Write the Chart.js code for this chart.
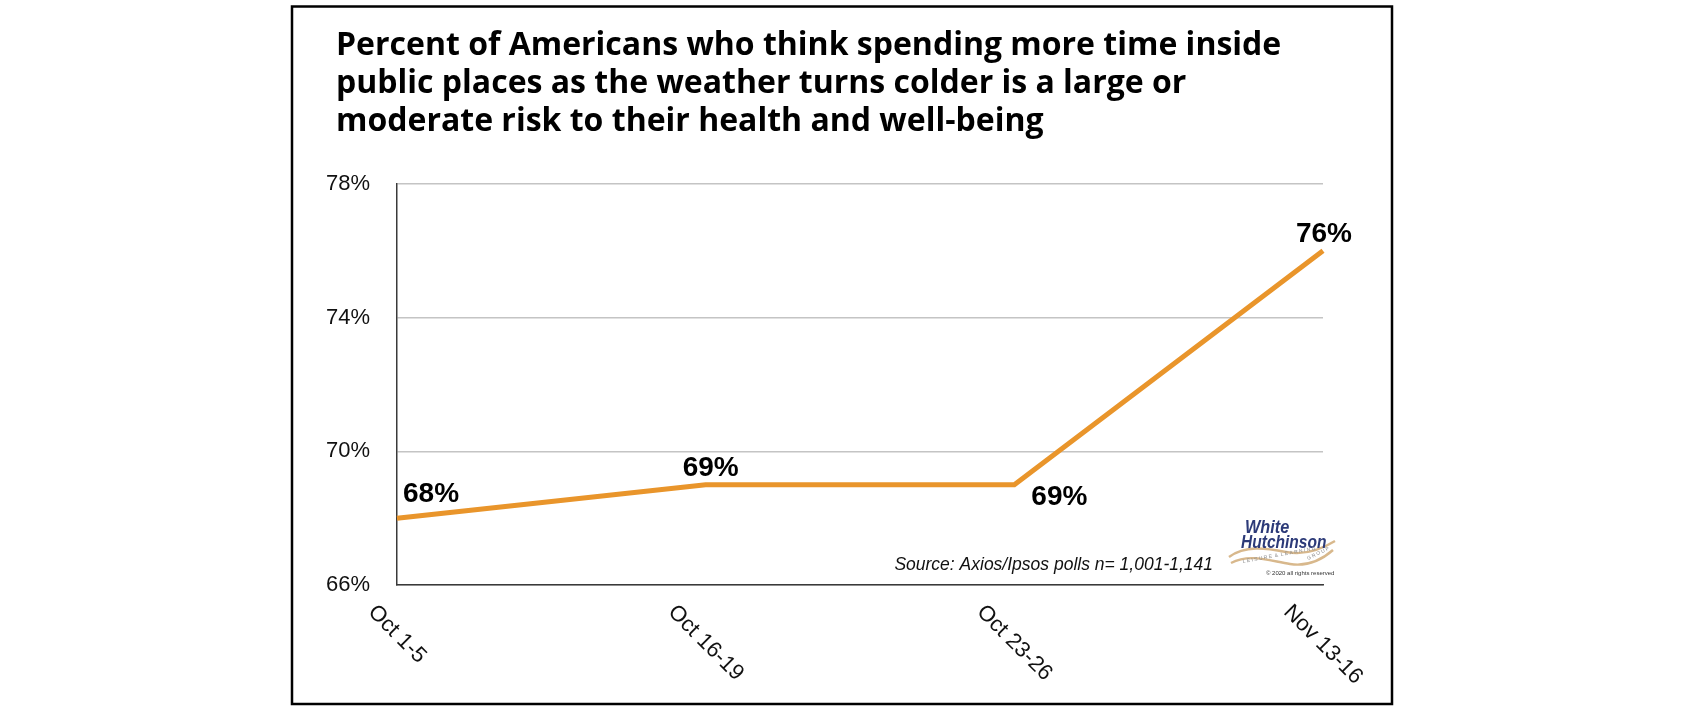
<!DOCTYPE html>
<html><head><meta charset="utf-8">
<script src="https://cdn.jsdelivr.net/npm/chart.js@4.4.0/dist/chart.umd.min.js"></script>
<style>html,body{margin:0;padding:0;background:#fff;overflow:hidden}#wrap{position:relative;width:1692px;height:715px}</style>
</head><body><div id="wrap"><canvas id="c" width="1692" height="715"></canvas></div>
<script>
// ---- data ----
const categories = ['Oct 1-5', 'Oct 16-19', 'Oct 23-26', 'Nov 13-16'];
const shareAtRisk = [68, 69, 69, 76];
const yTickValues = [66, 70, 74, 78];
const titleLines = [
  'Percent of Americans who think spending more time inside',
  'public places as the weather turns colder is a large or',
  'moderate risk to their health and well-being'
];
const sourceNote = 'Source: Axios/Ipsos polls n= 1,001-1,141';

// ---- label placement (style only) ----
const valueLabelPlacement = [
  { align: 'left',   dx: 6,  dy: -24 },
  { align: 'center', dx: 5,  dy: -16 },
  { align: 'center', dx: 45, dy: 13 },
  { align: 'center', dx: 1,  dy: -17 }
];

const decorPlugin = {
  id: 'decor',
  beforeDraw(chart) {
    const ctx = chart.ctx;
    ctx.save();
    ctx.fillStyle = '#ffffff';
    ctx.fillRect(0, 0, chart.width, chart.height);
    ctx.strokeStyle = '#000000';
    ctx.lineWidth = 2.5;
    ctx.strokeRect(292, 6.5, 1100, 697.5);
    // title
    ctx.fillStyle = '#000000';
    ctx.font = '700 32px "Open Sans"';
    ctx.textAlign = 'left';
    ctx.textBaseline = 'alphabetic';
    const baselines = [55, 93, 131];
    titleLines.forEach((t, i) => ctx.fillText(t, 336, baselines[i]));
    ctx.restore();
  },
  afterDatasetsDraw(chart) {
    const ctx = chart.ctx;
    const meta = chart.getDatasetMeta(0);
    ctx.save();
    ctx.fillStyle = '#000000';
    ctx.font = 'bold 28px "Liberation Sans"';
    ctx.textBaseline = 'middle';
    meta.data.forEach((pt, i) => {
      const p = valueLabelPlacement[i];
      ctx.textAlign = p.align;
      ctx.fillText(shareAtRisk[i] + '%', pt.x + p.dx, pt.y + p.dy);
    });
    ctx.restore();
  },
  afterDraw(chart) {
    const ctx = chart.ctx;
    const xs = chart.scales.x;
    ctx.save();
    // rotated category labels: bounding box centred on tick, top aligned below axis
    ctx.fillStyle = '#111111';
    const fs = 22;
    ctx.font = fs + 'px "Liberation Sans"';
    ctx.textAlign = 'center';
    ctx.textBaseline = 'middle';
    const k = Math.SQRT1_2;
    categories.forEach((c, i) => {
      const x = xs.getPixelForValue(i);
      const L = ctx.measureText(c).width;
      const H = (L + fs * 0.75) * k;
      ctx.save();
      ctx.translate(x, xs.bottom + 18 + H / 2);
      ctx.rotate(Math.PI / 4);
      ctx.fillText(c, 0, 0);
      ctx.restore();
    });
    // source
    ctx.font = 'italic 17.5px "Liberation Sans"';
    ctx.textAlign = 'right';
    ctx.textBaseline = 'alphabetic';
    ctx.fillStyle = '#111111';
    ctx.fillText(sourceNote, 1213, 570);
    // logo
    ctx.strokeStyle = '#d8b88c';
    ctx.lineWidth = 2.4;
    ctx.beginPath();
    ctx.moveTo(1229, 557);
    ctx.bezierCurveTo(1245, 545, 1266, 548, 1286, 552);
    ctx.bezierCurveTo(1306, 556, 1322, 549, 1335, 541);
    ctx.stroke();
    ctx.beginPath();
    ctx.moveTo(1231, 563);
    ctx.bezierCurveTo(1250, 553, 1270, 561, 1290, 564);
    ctx.bezierCurveTo(1310, 567, 1324, 558, 1333, 550);
    ctx.stroke();
    ctx.fillStyle = '#2c3a78';
    ctx.font = 'italic bold 18.5px "Liberation Sans"';
    ctx.textAlign = 'left';
    ctx.save(); ctx.translate(1245, 533); ctx.scale(0.88, 1); ctx.fillText('White', 0, 0); ctx.restore();
    ctx.save(); ctx.translate(1241, 548); ctx.scale(0.84, 1); ctx.fillText('Hutchinson', 0, 0); ctx.restore();
    ctx.fillStyle = '#8a8a8a';
    ctx.font = '5px "Liberation Sans"';
    ctx.save(); ctx.translate(1243, 563); ctx.rotate(-0.18); ctx.fillText('L E I S U R E  &  L E A R N I N G', 0, 0); ctx.restore();
    ctx.save(); ctx.translate(1308, 560); ctx.rotate(-0.45); ctx.fillText('G R O U P', 0, 0); ctx.restore();
    ctx.fillStyle = '#333333';
    ctx.font = '6px "Liberation Sans"';
    ctx.fillText('\u00a9 2020 all rights reserved', 1266, 575);
    ctx.restore();
  }
};

new Chart(document.getElementById('c'), {
  type: 'line',
  data: {
    labels: categories,
    datasets: [{
      data: shareAtRisk,
      borderColor: '#e9952b',
      borderWidth: 5,
      borderJoinStyle: 'miter',
      pointRadius: 0,
      pointHoverRadius: 0,
      tension: 0,
      fill: false
    }]
  },
  options: {
    responsive: false,
    animation: false,
    events: [],
    layout: { padding: { left: 300, right: 369, top: 184, bottom: 130 } },
    plugins: { legend: { display: false }, title: { display: false }, tooltip: { enabled: false } },
    scales: {
      x: {
        type: 'category',
        offset: false,
        grid: { display: false, drawTicks: false },
        border: { display: true, color: '#3a3a3a', width: 1.5 },
        ticks: { display: false }
      },
      y: {
        min: 66,
        max: 78,
        afterBuildTicks: s => { s.ticks = yTickValues.map(v => ({ value: v })); },
        afterFit: s => { s.width = 97; },
        grid: { color: '#c4c4c4', lineWidth: 1.5, drawTicks: false },
        border: { display: true, color: '#3a3a3a', width: 1.5 },
        ticks: {
          padding: 27,
          color: '#111111',
          font: { family: '"Liberation Sans"', size: 22 },
          callback: v => v + '%'
        }
      }
    }
  },
  plugins: [decorPlugin]
});
</script>
</body></html>
